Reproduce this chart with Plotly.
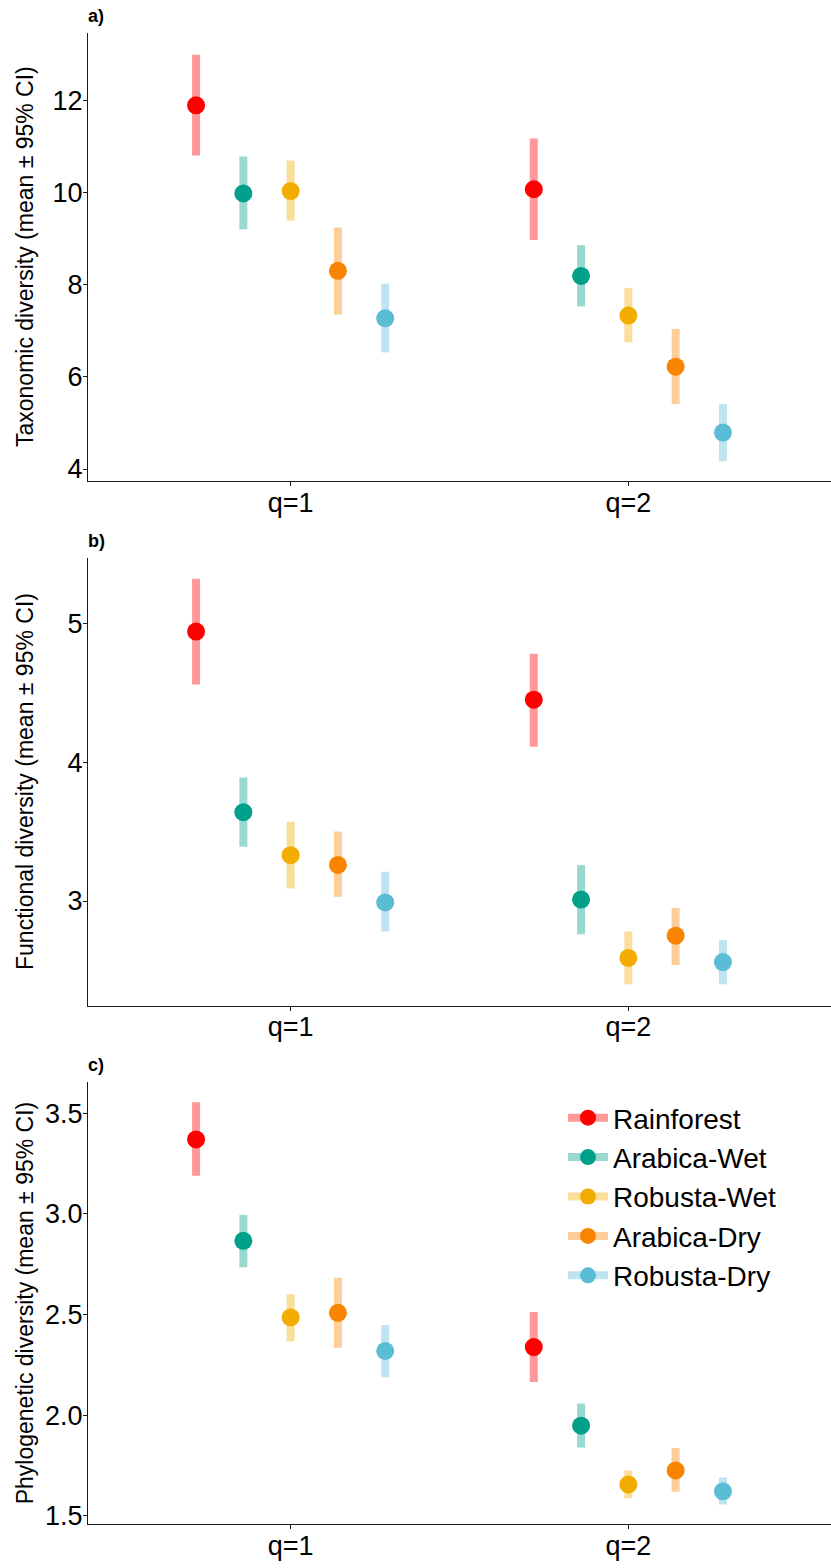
import plotly.graph_objects as go

# ---------------- data ----------------
groups = ["Rainforest", "Arabica-Wet", "Robusta-Wet", "Arabica-Dry", "Robusta-Dry"]
q_labels = ["q=1", "q=2"]
colors = ["#FF0000", "#00A08A", "#F2AD00", "#F98400", "#5BBCD6"]

# Taxonomic diversity (per group: [q=1, q=2])
tax_mean = [[11.89, 10.07], [9.98, 8.19], [10.03, 7.33], [8.30, 6.22], [7.27, 4.79]]
tax_lo = [[10.80, 8.97], [9.20, 7.53], [9.39, 6.75], [7.35, 5.41], [6.53, 4.17]]
tax_hi = [[12.99, 11.17], [10.78, 8.86], [10.69, 7.93], [9.24, 7.04], [8.02, 5.41]]

# Functional diversity
fun_mean = [[4.94, 4.45], [3.64, 3.01], [3.33, 2.59], [3.26, 2.75], [2.99, 2.56]]
fun_lo = [[4.56, 4.11], [3.39, 2.76], [3.09, 2.40], [3.03, 2.54], [2.78, 2.40]]
fun_hi = [[5.32, 4.78], [3.89, 3.26], [3.57, 2.78], [3.50, 2.95], [3.21, 2.72]]

# Phylogenetic diversity
phy_mean = [[3.370, 2.338], [2.866, 1.947], [2.485, 1.655], [2.508, 1.725], [2.319, 1.621]]
phy_lo = [[3.190, 2.164], [2.735, 1.839], [2.366, 1.587], [2.334, 1.619], [2.188, 1.555]]
phy_hi = [[3.555, 2.512], [2.995, 2.058], [2.600, 1.725], [2.682, 1.836], [2.448, 1.690]]

panel_titles = ["Taxonomic diversity (mean ± 95% CI)",
                "Functional diversity (mean ± 95% CI)",
                "Phylogenetic diversity (mean ± 95% CI)"]
panel_tags = ["a)", "b)", "c)"]
y_ranges = [[3.74, 13.46], [2.246, 5.468], [1.457, 3.654]]
y_ticks = [[4, 6, 8, 10, 12], [3, 4, 5], [1.5, 2.0, 2.5, 3.0, 3.5]]
y_ticktext = [["4", "6", "8", "10", "12"], ["3", "4", "5"], ["1.5", "2.0", "2.5", "3.0", "3.5"]]

# ---------------- layout geometry ----------------
W, H = 831, 1568
FONT = "Liberation Sans, Arial, sans-serif"
plot_left = 88
panel_px = [(33, 481), (558.3, 1005.7), (1082.3, 1524.3)]  # top, bottom in px
dodge_width = 0.7
n = len(groups)


def rgba(hex_color, a):
    h = hex_color.lstrip("#")
    r, g, b = int(h[0:2], 16), int(h[2:4], 16), int(h[4:6], 16)
    return f"rgba({r},{g},{b},{a})"


fig = go.Figure()

panels = [(tax_mean, tax_lo, tax_hi), (fun_mean, fun_lo, fun_hi), (phy_mean, phy_lo, phy_hi)]
for p, (means, los, his) in enumerate(panels):
    xa = "x" if p == 0 else f"x{p + 1}"
    ya = "y" if p == 0 else f"y{p + 1}"
    for g in range(n):
        offset = (g - (n - 1) / 2) * dodge_width / n
        xs = [k + 1 + offset for k in range(len(q_labels))]
        m = means[g]
        fig.add_trace(go.Scatter(
            x=xs, y=m, mode="markers", xaxis=xa, yaxis=ya,
            name=groups[g], showlegend=False,
            marker=dict(color=colors[g], size=18, line=dict(width=0)),
            error_y=dict(type="data", symmetric=False,
                         array=[his[g][k] - m[k] for k in range(len(m))],
                         arrayminus=[m[k] - los[g][k] for k in range(len(m))],
                         color=rgba(colors[g], 0.4), thickness=8, width=0),
        ))

# legend-only traces (line + point key)
for g in range(n):
    fig.add_trace(go.Scatter(
        x=[None], y=[None], mode="lines+markers", xaxis="x3", yaxis="y3",
        name=groups[g], showlegend=True,
        line=dict(color=rgba(colors[g], 0.4), width=8),
        marker=dict(color=colors[g], size=18),
    ))

layout = dict(
    width=W, height=H,
    margin=dict(l=0, r=0, t=0, b=0),
    paper_bgcolor="white", plot_bgcolor="white",
    font=dict(family=FONT, color="black"),
    legend=dict(x=563 / W, y=1 - 1093 / H, xanchor="left", yanchor="top",
                font=dict(size=28, family=FONT, color="black"),
                bgcolor="rgba(0,0,0,0)", itemwidth=40, tracegroupgap=0),
    annotations=[],
)

axis_common = dict(showgrid=False, zeroline=False, showline=True, linecolor="#1a1a1a",
                   linewidth=1.3, ticks="outside", ticklen=4, tickwidth=1.3,
                   tickcolor="#1a1a1a", automargin=False,
                   tickfont=dict(size=27, family=FONT, color="black"))

for p in range(3):
    top, bot = panel_px[p]
    suffix = "" if p == 0 else str(p + 1)
    layout[f"xaxis{suffix}"] = dict(
        axis_common, domain=[plot_left / W, 1], range=[0.4, 2.6],
        tickmode="array", tickvals=[1, 2], ticktext=q_labels,
        ticklabelstandoff=-7, anchor=f"y{suffix}")
    layout[f"yaxis{suffix}"] = dict(
        axis_common, domain=[1 - bot / H, 1 - top / H], range=y_ranges[p],
        tickmode="array", tickvals=y_ticks[p], ticktext=y_ticktext[p],
        ticklabelstandoff=-5, anchor=f"x{suffix}")
    # y-axis title
    layout["annotations"].append(dict(
        text=panel_titles[p], textangle=-90, showarrow=False,
        xref="paper", yref="paper", x=25 / W, y=1 - (top + bot) / 2 / H,
        xanchor="center", yanchor="middle",
        font=dict(size=23, family=FONT, color="black")))
    # panel tag
    layout["annotations"].append(dict(
        text=f"<b>{panel_tags[p]}</b>", showarrow=False,
        xref="paper", yref="paper", x=plot_left / W - 0.002, y=1 - (top - 17) / H,
        xanchor="left", yanchor="middle",
        font=dict(size=18, family=FONT, color="black")))

fig.update_layout(**layout)
fig.write_html("out.html", config={"displayModeBar": False},
               post_script="document.body.style.margin='0px';")
